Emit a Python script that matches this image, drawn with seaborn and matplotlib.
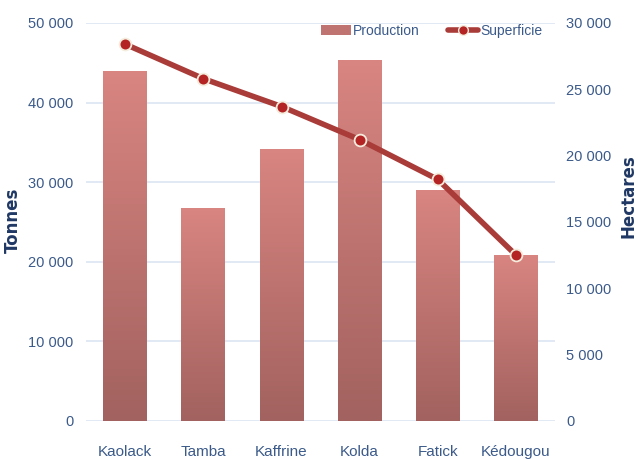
import numpy as np
import pandas as pd
import seaborn as sns
import matplotlib.pyplot as plt
from matplotlib.lines import Line2D
from matplotlib.patches import Patch
from matplotlib.ticker import FuncFormatter
from matplotlib.colors import LinearSegmentedColormap

# Regions and values
regions = ["Kaolack", "Tamba", "Kaffrine", "Kolda", "Fatick", "Kédougou"]
production = [44000, 26800, 34200, 45400, 29000, 20900]   # tonnes
superficie = [28400, 25800, 23700, 21200, 18200, 12500]   # hectares

df = pd.DataFrame({"Region": regions, "Production": production, "Superficie": superficie})

sns.set_theme(style="white")
plt.rcParams["font.family"] = ["Liberation Sans", "DejaVu Sans"]

tick_col = "#3b5a8a"
lab_col = "#1f3864"
grid_col = "#dce6f2"

fig = plt.figure(figsize=(6.38, 4.59), dpi=100)
ax = fig.add_axes([0.135, 0.083, 0.735, 0.867])

sns.barplot(data=df, x="Region", y="Production", color="#c87370", width=0.56, ax=ax, zorder=2)

# vertical gradient on each bar (light top, darker bottom)
grad = np.linspace(0, 1, 256).reshape(-1, 1)
cmap = LinearSegmentedColormap.from_list("bar", ["#a2625f", "#d98581"])
for p in ax.patches:
    x0, y0 = p.get_x(), p.get_y()
    w, h = p.get_width(), p.get_height()
    im = ax.imshow(grad, extent=[x0, x0 + w, y0, y0 + h], origin="lower",
                   aspect="auto", cmap=cmap, zorder=2.5)
    im.set_clip_path(p)
    p.set_edgecolor("none")

ax.set_xlim(-0.5, len(regions) - 0.5)
ax.set_ylim(0, 50000)
ax.set_yticks(range(0, 50001, 10000))
fmt = FuncFormatter(lambda v, _: f"{int(v):,}".replace(",", " "))
ax.yaxis.set_major_formatter(fmt)
ax.grid(axis="y", color=grid_col, linewidth=1.2, zorder=0)
ax.set_axisbelow(True)
for s in ax.spines.values():
    s.set_visible(False)
ax.tick_params(axis="both", length=0, labelsize=10.5, labelcolor=tick_col)
ax.tick_params(axis="y", pad=9)
ax.tick_params(axis="x", labelsize=11, pad=17)
ax.set_xlabel("")
ax.set_ylabel("Tonnes", fontsize=12, fontweight="bold", color=lab_col,
              family="DejaVu Sans")
ax.yaxis.set_label_coords(-0.138, 0.503)

ax2 = ax.twinx()
sns.lineplot(data=df, x="Region", y="Superficie", ax=ax2, color="#a93b38",
             linewidth=4, marker="o", markersize=8.5, markerfacecolor="#b52424",
             markeredgecolor="#f4ecdc", markeredgewidth=1.3, zorder=5)
ax2.set_ylim(0, 30000)
ax2.set_yticks(range(0, 30001, 5000))
ax2.yaxis.set_major_formatter(fmt)
for s in ax2.spines.values():
    s.set_visible(False)
ax2.tick_params(axis="y", length=0, labelsize=10.5, labelcolor=tick_col, pad=8)
ax2.set_ylabel("Hectares", fontsize=12, fontweight="bold", color=lab_col,
               family="DejaVu Sans", rotation=90)
ax2.yaxis.set_label_coords(1.138, 0.565)
ax2.grid(False)

handles = [Patch(facecolor="#c07471", edgecolor="none"),
           Line2D([0], [0], color="#a93b38", linewidth=4, marker="o", markersize=7,
                  markerfacecolor="#b52424", markeredgecolor="#f4ecdc")]
ax2.legend(handles, ["Production", "Superficie"], loc="upper right",
           bbox_to_anchor=(1.0, 1.03), ncol=2, frameon=False, fontsize=10,
           labelcolor=tick_col, handlelength=2.2, handletextpad=0.15,
           columnspacing=2.0)

fig.savefig("out.png", dpi=100)
